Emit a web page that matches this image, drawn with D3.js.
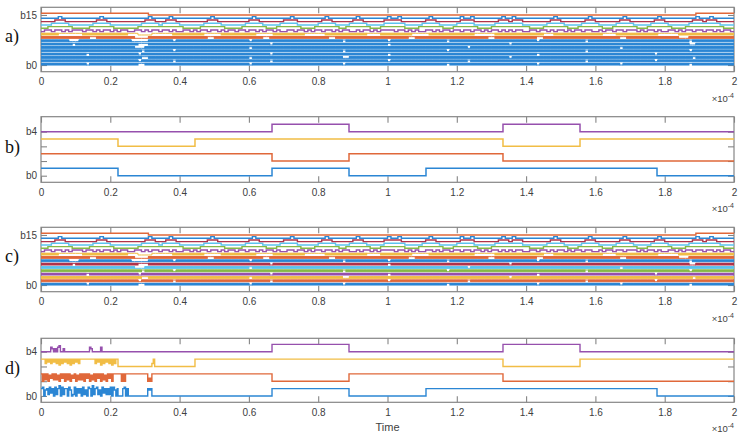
<!DOCTYPE html>
<html>
<head>
<meta charset="utf-8">
<script src="https://cdn.jsdelivr.net/npm/d3@7"></script>
<style>
  body { margin: 0; background: #fff; }
  svg { display: block; font-family: "Liberation Sans", Arial, sans-serif; }
</style>
</head>
<body>
<div id="chart"></div>
<script>

// ---- shared time axis (units of 1e-4 s) ----
const xTicks = [0, 0.2, 0.4, 0.6, 0.8, 1, 1.2, 1.4, 1.6, 1.8, 2];
const xTickLabels = ["0", "0.2", "0.4", "0.6", "0.8", "1", "1.2", "1.4", "1.6", "1.8", "2"];

// ---- panels b) and d): 4 bit lines, 9 code words ----
const wordTimes = [0, 0.2222, 0.4444, 0.6667, 0.8889, 1.1111, 1.3333, 1.5556, 1.7778, 2];
const wordBits = [
  [1, 0, 0, 1, 0, 1, 1, 1, 0],   // b0 (blue)
  [1, 1, 1, 0, 1, 1, 0, 0, 0],   // orange
  [1, 0, 1, 1, 1, 1, 0, 1, 1],   // yellow
  [0, 0, 0, 1, 0, 0, 1, 0, 0]    // purple
];
const smallTicks = [0, 1, 2, 3];
const smallTickLabels = ["b0", "", "", "b4"];

// panel d) start-up noise, one char per 0.004: digit = tenths above the line's base, "." = clean
const noiseStep = 0.004;
const noiseD = [
  "5604516250615706155064016052506140650715614062515160640" + "...." + "5605" + ".............." + "5450",
  "50515042515140525051504250415150525041505250514052505" + "....." + "0.0" + "................" + "0205",
  "..52535253525152535251525352555555555552535152535251525" + "........................." + "25",
  ".......32.2.34..2..................32......3"
];

// ---- panels a) and c): 16 bit lines, one char per 0.01 (index 0 = b0)
// "0" low, "1" high, "2" toggling faster than one cell ----
const bitStep = 0.01;
const bits16 = [
  "2222222222 2220222222 2222222211 2222222222 2222222222 2222222222 0222222222 2222222222 2222222022 2222222222 2222222222 2222222122 2222222222 2222222222 2220222222 2222222222 2222222022 2222222222 2222222122 2222222222",
  "2222222222 2222222222 2222222202 2222222212 2222222222 2222222222 2222221222 2222222222 2222222222 2222222222 0222222222 2222222222 2221222222 2222222222 2222222222 2222222122 2222222222 2222222022 2222222222 2222222222",
  "2222222222 2222222222 2222222221 1222222222 2222222222 2222222222 1222222222 2222222222 2222222002 2222222222 2222222222 2222222222 2222222222 2222202222 2222222222 2222222222 2222222222 2222222222 2222222212 2222222222",
  "2222222222 2221222222 2222222202 2222222222 2222222222 2222222222 2222220222 2222222222 2222222222 2222222222 1222222222 2222222222 2222222222 2222222222 2221222222 2222222222 2222222222 2222222022 2222222222 2222222222",
  "2222222222 2222222222 2222222221 2222222202 2222222222 2222222222 2222222222 2222222222 2222222122 2222222222 2222222222 2222222022 2222222222 2222222222 2222222222 2222222122 2222222222 2222222222 2222222022 2222222222",
  "2222222222 2222222222 2222222000 2222222222 2222222222 2222222222 1222222222 2222222222 2222222222 2222222222 2222222222 2222222222 2220222222 2222222222 2222222222 2222222222 2222222122 2222222222 2222222222 2222222222",
  "2222222221 2222222222 2222222211 1222222222 2222222222 2222222222 2222220222 2222222222 2222222222 2222222222 1222222222 2222222222 2222222222 2222202222 2222222222 2222222222 2222222222 2222222222 2222222002 2222222222",
  "2222222200 0222222222 2222220000 0222222202 2222222222 2222222222 0222222222 2222222222 2222222122 2222222222 0222222222 2222222122 2222222222 2222222222 2220222222 2222222122 2222222222 2222222222 2222222122 2222222222",
  "2222222222 2222112222 2222222000 0222222222 2222222211 2222222222 2222112222 2222222222 2221122222 2222222222 2222221122 2222222222 2222222221 1222222222 2221122222 2222222222 2222222112 2222222222 2222000222 2222222222",
  "2222211111 1122222222 2222211100 0011111122 2222222111 1122222222 2211111222 2222221111 1122222222 2222111122 2222222111 1122222222 2222211111 1222222222 2222211122 2222222222 2211112222 2222222211 1111222222 2222222222",
  "0110110101 1101101011 0101100110 1011011010 0110101101 1010110110 1101011010 0110110101 1011010110 0101101011 1101101010 0110101101 1011011010 1101010110 0110110101 1010110110 0101101101 1101011010 0110101101 1011010110",
  "0011111110 0000111111 1000000011 1111111111 1000001111 1110000011 1111100011 1111100001 1111110011 1111100011 1111100001 1111110001 1111110000 1111111111 1000011111 1100011111 1100011111 1100011111 1100001111 1111111000",
  "0001111100 0000011111 0000000001 1111011111 0000000111 1100000001 1111000001 1111000000 1111100001 1111000001 1111100000 1111100000 1111100000 0111111110 0000001111 1000001111 1000001111 1000001111 1000000111 1111110000",
  "0000111000 0000001110 0000000000 1110001110 0000000011 1000000000 1110000000 1111000000 0111000000 1110000001 1111000000 0111000000 0111100000 0011101110 0000000111 0000000111 0000000111 0000000111 0000000011 1011100000",
  "0000010000 0000000100 0000000000 0100000100 0000000001 0000000000 0100000000 0010000000 0010000000 0100000000 1001000000 0010000000 0100100000 0001001000 0000000010 0000000010 0000000010 0000000010 0000000001 0001000000",
  "1111111111 1111111111 1111111111 1000000000 0000000000 0000000000 0000000000 0000000000 0000000000 0000000000 0000000000 0000000000 0000000000 0000000000 0000000000 0000000000 0000000000 0000000000 0000000001 1111111111"
];
const bigTicks = [0, 15];
const bigTickLabels = ["b0", "b15"];

// MATLAB colour order, as it looks in the scanned figure
const colorOrder = ["#2b86d4", "#e0683a", "#f1bd45", "#9650ad", "#86b847", "#5cc3ee", "#b0324a"];

const W = 748, H = 440;
const plotLeft = 41, plotRight = 734;

const svg = d3.select("#chart").append("svg")
  .attr("width", W)
  .attr("height", H);

const x = d3.scaleLinear().domain([0, 2]).range([plotLeft, plotRight]);

const line = d3.line()
  .curve(d3.curveStepAfter)
  .x(d => x(d.t))
  .y(d => d.y);

// ---- series builders ----
function bitSeries(str, i) {
  let s = str.replace(/ /g, "");
  let pts = [];
  let bands = [];
  for (let j = 0; j < s.length; j++) {
    let c = s[j];
    pts.push({ t: j * bitStep, v: c === "0" ? i : i + 0.5 });
    if (c === "2") {
      let last = bands[bands.length - 1];
      if (last && last.t1 === j) last.t1 = j + 1;
      else bands.push({ t0: j, t1: j + 1 });
    }
  }
  pts.push({ t: 2, v: pts[pts.length - 1].v });
  pts.bands = bands.map(b => ({ t0: b.t0 * bitStep, t1: b.t1 * bitStep, lo: i, hi: i + 0.5 }));
  return pts;
}

function wordValue(i, t) {
  let k = d3.bisectRight(wordTimes, t) - 1;
  k = Math.max(0, Math.min(wordBits[i].length - 1, k));
  return i + 0.5 * wordBits[i][k];
}

function wordSeries(i, noise) {
  let times = wordTimes.slice(0, -1);
  if (noise) {
    for (let j = 0; j <= noise.length; j++) times.push(j * noiseStep);
  }
  times = Array.from(new Set(times.map(t => +t.toFixed(5)))).sort((a, b) => a - b);
  let pts = times.map(t => {
    let v = wordValue(i, t);
    if (noise) {
      let j = Math.floor(t / noiseStep + 1e-6);
      if (j < noise.length && noise[j] !== ".") v = i + 0.1 * (+noise[j]);
    }
    return { t: t, v: v };
  });
  pts.push({ t: 2, v: pts[pts.length - 1].v });
  pts.bands = [];
  return pts;
}

// ---- one axes box ----
function drawPanel(cfg) {
  let y = d3.scaleLinear().domain(cfg.yDomain).range([cfg.bottom, cfg.top]);
  let g = svg.append("g");
  let h = cfg.bottom - cfg.top;

  let clipId = "clip-" + cfg.name;
  svg.append("defs").append("clipPath").attr("id", clipId)
    .append("rect")
    .attr("x", plotLeft).attr("y", cfg.top)
    .attr("width", plotRight - plotLeft).attr("height", h);

  // axes (inward ticks)
  g.append("g")
    .attr("transform", "translate(0," + cfg.bottom + ")")
    .call(d3.axisBottom(x).tickValues(xTicks).tickFormat((d, i) => xTickLabels[i])
      .tickSizeInner(-6).tickSizeOuter(0).tickPadding(6.5));
  g.append("g")
    .attr("transform", "translate(0," + cfg.top + ")")
    .call(d3.axisTop(x).tickValues(xTicks).tickFormat("").tickSizeInner(-6).tickSizeOuter(0));
  g.append("g")
    .attr("transform", "translate(" + plotLeft + ",0)")
    .call(d3.axisLeft(y).tickValues(cfg.yTicks).tickFormat((d, i) => cfg.yLabels[i])
      .tickSizeInner(-6).tickSizeOuter(0).tickPadding(4));
  g.append("g")
    .attr("transform", "translate(" + plotRight + ",0)")
    .call(d3.axisRight(y).tickValues(cfg.yTicks).tickFormat("").tickSizeInner(-6).tickSizeOuter(0));

  g.selectAll(".domain").remove();
  g.selectAll(".tick line").attr("stroke", "#858585").attr("stroke-width", 1.1);
  g.selectAll(".tick text").attr("fill", "#404040").attr("font-size", 10)
    .attr("font-family", "Liberation Sans, Arial, sans-serif");

  g.append("rect")
    .attr("x", plotLeft).attr("y", cfg.top)
    .attr("width", plotRight - plotLeft).attr("height", h)
    .attr("fill", "none")
    .attr("stroke", "#858585")
    .attr("stroke-width", 1.2);

  // data lines (plus filled bands where a bit toggles faster than a cell)
  let lg = svg.append("g").attr("clip-path", "url(#" + clipId + ")");
  cfg.series.forEach((pts, i) => {
    // thinner strokes for the busy low bits so thin white gaps remain between them
    let sw = pts.bands.length ? cfg.bandStroke : cfg.strokeWidth;

    lg.selectAll(null)
      .data(pts.bands)
      .join("rect")
      .attr("x", d => x(d.t0))
      .attr("y", d => y(d.hi))
      .attr("width", d => x(d.t1) - x(d.t0))
      .attr("height", d => y(d.lo) - y(d.hi))
      .attr("fill", cfg.colors[i])
      .attr("stroke", cfg.colors[i])
      .attr("stroke-width", sw);

    lg.append("path")
      .datum(pts.map(p => ({ t: p.t, y: y(p.v) })))
      .attr("d", line)
      .attr("fill", "none")
      .attr("stroke", cfg.colors[i])
      .attr("stroke-width", sw);
  });

  // exponent label
  let ex = svg.append("text")
    .attr("x", plotRight)
    .attr("y", cfg.bottom + 30)
    .attr("text-anchor", "end")
    .attr("fill", "#404040")
    .attr("font-size", 9.5);
  ex.append("tspan").text("\u00d710");
  ex.append("tspan").attr("dy", -4).attr("font-size", 7).text("-4");

  // panel letter
  svg.append("text")
    .attr("x", 5)
    .attr("y", cfg.letterY)
    .attr("font-family", "Liberation Serif, Times New Roman, serif")
    .attr("font-size", 18)
    .attr("fill", "#111")
    .text(cfg.name + ")");
}

let seriesA = bits16.map((s, i) => bitSeries(s, i));
let colorsA = bits16.map((s, i) => i < 8 ? colorOrder[0] : colorOrder[i % 7]);
let colorsC = bits16.map((s, i) => colorOrder[i % 7]);

drawPanel({
  name: "a", top: 7.3, bottom: 71.7, yDomain: [-2.0, 17.3],
  yTicks: bigTicks, yLabels: bigTickLabels,
  series: seriesA, colors: colorsA, strokeWidth: 1.4, bandStroke: 1.0, letterY: 42
});

drawPanel({
  name: "b", top: 116.7, bottom: 182.3, yDomain: [-0.45, 4.02],
  yTicks: smallTicks, yLabels: smallTickLabels,
  series: wordBits.map((w, i) => wordSeries(i, null)),
  colors: colorOrder.slice(0, 4), strokeWidth: 1.5, bandStroke: 1.5, letterY: 153
});

drawPanel({
  name: "c", top: 227.3, bottom: 291.7, yDomain: [-2.0, 17.3],
  yTicks: bigTicks, yLabels: bigTickLabels,
  series: seriesA, colors: colorsC, strokeWidth: 1.4, bandStroke: 1.0, letterY: 262
});

drawPanel({
  name: "d", top: 338.3, bottom: 402.3, yDomain: [-0.43, 3.91],
  yTicks: smallTicks, yLabels: smallTickLabels,
  series: wordBits.map((w, i) => wordSeries(i, noiseD[i])),
  colors: colorOrder.slice(0, 4), strokeWidth: 1.4, bandStroke: 1.4, letterY: 374
});

// x label of the last panel
svg.append("text")
  .attr("x", (plotLeft + plotRight) / 2)
  .attr("y", 431)
  .attr("text-anchor", "middle")
  .attr("fill", "#404040")
  .attr("font-size", 11)
  .text("Time");

</script>
</body>
</html>
